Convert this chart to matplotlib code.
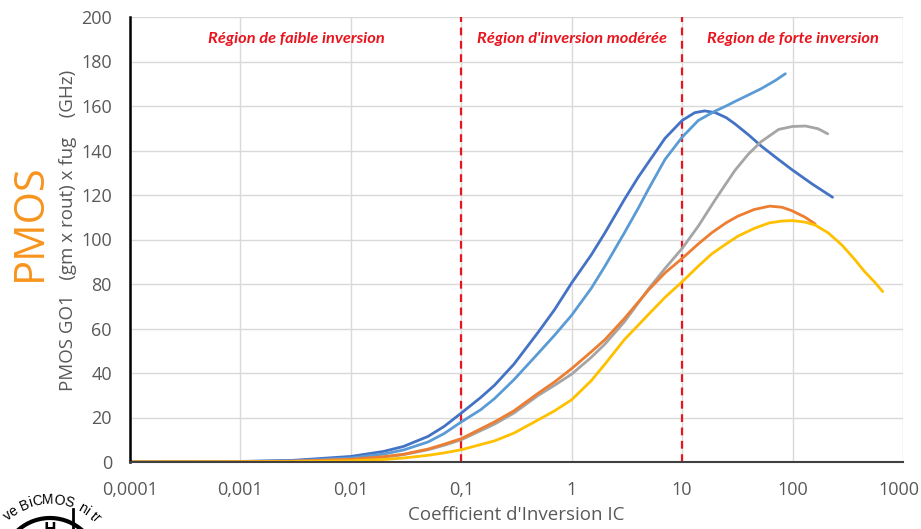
import numpy as np
import matplotlib
matplotlib.use("Agg")
from matplotlib import pyplot as plt
from matplotlib.patches import Arc
from matplotlib.transforms import ScaledTranslation

# ---- data (IC, value in GHz) ----
ic_db = [0.0001, 0.001, 0.003, 0.01, 0.02, 0.03, 0.05, 0.07, 0.1, 0.15, 0.2, 0.3, 0.5, 0.7, 1,
         1.5, 2, 3, 4, 5, 7, 10, 13, 16, 20, 25, 30, 40, 52, 70, 98, 150, 230]
v_db = [0.02, 0.25, 0.75, 2.5, 4.8, 7, 11.5, 16, 22, 29, 34.5, 44, 58.5, 68.5, 80.5,
        93, 103, 118, 128, 135, 145.5, 153.5, 157, 157.8, 157, 154.8, 152, 147, 142, 137, 131.5, 125, 119]

ic_lb = [0.0001, 0.001, 0.003, 0.01, 0.02, 0.03, 0.05, 0.07, 0.1, 0.15, 0.2, 0.3, 0.5, 0.7, 1,
         1.5, 2, 3, 4, 5, 7, 10, 14, 19.5, 25, 30, 40, 52, 70, 86]
v_lb = [0.018, 0.18, 0.55, 1.8, 3.6, 5.4, 9, 12.8, 18, 23.5, 28.5, 37, 49, 57, 66,
        78, 88, 103, 114, 123, 136, 146, 153.5, 157.5, 160, 162, 165, 167.8, 171.5, 174.5]

ic_gr = [0.0001, 0.001, 0.003, 0.01, 0.02, 0.03, 0.05, 0.07, 0.1, 0.2, 0.3, 0.5, 0.7, 1,
         1.5, 2, 3, 5, 7, 10, 14, 20, 30, 40, 52, 75, 100, 131, 170, 208]
v_gr = [0.01, 0.1, 0.33, 1.1, 2.2, 3.3, 5.5, 7.5, 10, 17, 22, 30, 34.5, 39.5,
        47, 53, 63, 78, 87, 96, 106, 118, 131, 138.5, 144, 149.5, 150.8, 151, 149.8, 147.5]

ic_or = [0.0001, 0.001, 0.003, 0.01, 0.02, 0.03, 0.05, 0.07, 0.1, 0.2, 0.3, 0.5, 0.7, 1,
         1.5, 2, 3, 5, 7, 10, 14, 18.5, 25, 32, 45, 62, 80, 98, 130, 160]
v_or = [0.011, 0.11, 0.36, 1.2, 2.4, 3.5, 5.8, 8, 10.5, 18, 23, 31, 36, 42,
        49.5, 55, 64.5, 77.5, 85, 91.5, 98, 103, 107.5, 110.5, 113.5, 115, 114.5, 113, 110, 107]

ic_ye = [0.0001, 0.001, 0.003, 0.01, 0.02, 0.03, 0.05, 0.07, 0.1, 0.2, 0.3, 0.5, 0.7, 1,
         1.5, 2, 3, 5, 7, 10, 14, 18.5, 25, 32, 45, 62, 80, 100, 130, 160, 210, 280, 366, 450, 550, 655]
v_ye = [0.005, 0.05, 0.17, 0.55, 1.15, 1.8, 3, 4.1, 5.5, 9.5, 13, 19, 23, 28,
        36.5, 44, 55, 66.5, 74, 81, 88, 93.5, 98, 101.5, 105, 107.5, 108.3, 108.5, 107.8, 106.5,
        103, 97.5, 91, 85.5, 81, 76.6]

xticks = [0.0001, 0.001, 0.01, 0.1, 1, 10, 100, 1000]
xlabels = ["0,0001", "0,001", "0,01", "0,1", "1", "10", "100", "1000"]
region_bounds = [0.1, 10]
region_names = ["Région de faible inversion", "Région d'inversion modérée", "Région de forte inversion"]
region_x = [0.0032, 1.0, 100]

plt.rcParams['font.family'] = ['Open Sans', 'DejaVu Sans']

fig = plt.figure(figsize=(9.21, 5.29), dpi=100)
ax = fig.add_axes([130/921, 67/529, 773/921, 445/529])

series = [
    (ic_db, v_db, "#4472C4"),
    (ic_lb, v_lb, "#5B9BD5"),
    (ic_gr, v_gr, "#A5A5A5"),
    (ic_or, v_or, "#ED7D31"),
    (ic_ye, v_ye, "#FFC000"),
]
for x, y, c in series:
    ax.plot(x, y, color=c, lw=2.0, solid_capstyle="round", solid_joinstyle="round", zorder=3)

ax.set_xscale("log")
ax.set_xlim(0.0001, 1000)
ax.set_ylim(0, 200)
ax.set_xticks(xticks)
ax.set_xticklabels(xlabels)
ax.minorticks_off()
ax.set_yticks(range(0, 201, 20))
ax.grid(True, color="#D9D9D9", lw=1.0, zorder=0)
ax.tick_params(length=0, colors="#595959", labelsize=13)
ax.tick_params(axis="x", pad=14)
ax.tick_params(axis="y", pad=13)
# keep the last x label inside the canvas
last = ax.get_xticklabels()[-1]
last.set_transform(last.get_transform() + ScaledTranslation(-4/100, 0, fig.dpi_scale_trans))

for s in ["top", "right"]:
    ax.spines[s].set_visible(False)
ax.spines["left"].set_color("black")
ax.spines["left"].set_linewidth(1.8)
ax.spines["bottom"].set_color("#404040")
ax.spines["bottom"].set_linewidth(1.5)
ax.spines["left"].set_zorder(4)
ax.spines["bottom"].set_zorder(4)

for b in region_bounds:
    ax.axvline(b, color="#E8141E", lw=1.6, ls=(0, (3.5, 2.5)), zorder=2)

for name, xr in zip(region_names, region_x):
    ax.text(xr, 190, name, color="#E8141E", fontsize=11.8, fontweight="bold",
            fontstyle="italic", ha="center", va="center", family=["Lato", "DejaVu Sans"])

ax.set_xlabel("Coefficient d'Inversion IC", fontsize=13.5, color="#595959", labelpad=5)
ax.set_ylabel("PMOS GO1   (gm x rout) x fug    (GHz)", fontsize=13.5, color="#595959")
ax.yaxis.set_label_coords(-53/773, (462 - 230)/445)

fig.text(30/921, 1 - 222/529, "PMOS", rotation=90, color="#F7941D", fontsize=30,
         ha="center", va="center")

# partial logo at bottom-left
cx, cy = 50, 566
arc = Arc((cx/921, 1 - cy/529), 2*48/921, 2*48/529, theta1=15, theta2=175,
          transform=fig.transFigure, color="black", lw=3)
fig.add_artist(arc)
fig.add_artist(plt.Line2D([73/921, 73/921], [0, 1 - 509/529],
                          transform=fig.transFigure, color="black", lw=2))

char_w = {"v": 0.5, "e": 0.556, " ": 0.3, "B": 0.667, "i": 0.24, "C": 0.722, "M": 0.833,
          "O": 0.778, "S": 0.667, "n": 0.556, "t": 0.3, "r": 0.36}


def arc_text(txt, a_start, rr=66, fs=10):
    em = fs * 100 / 72
    a = a_start
    for ch in txt:
        w = char_w[ch] * em
        mid = a - np.degrees(w / 2 / rr)
        px = cx + rr*np.cos(np.radians(mid))
        py = cy - rr*np.sin(np.radians(mid))
        fig.text(px/921, 1 - py/529, ch, rotation=mid - 90, fontsize=fs, ha="center",
                 va="center", family=["Liberation Sans", "DejaVu Sans"])
        a -= np.degrees(w / rr)


arc_text("ve BiCMOS", 133)
arc_text("ni tr", 64)
fig.text(50/921, 1 - 521/529, "H", fontsize=12, fontweight="bold", ha="center", va="top")

fig.savefig("out.png", dpi=100)
